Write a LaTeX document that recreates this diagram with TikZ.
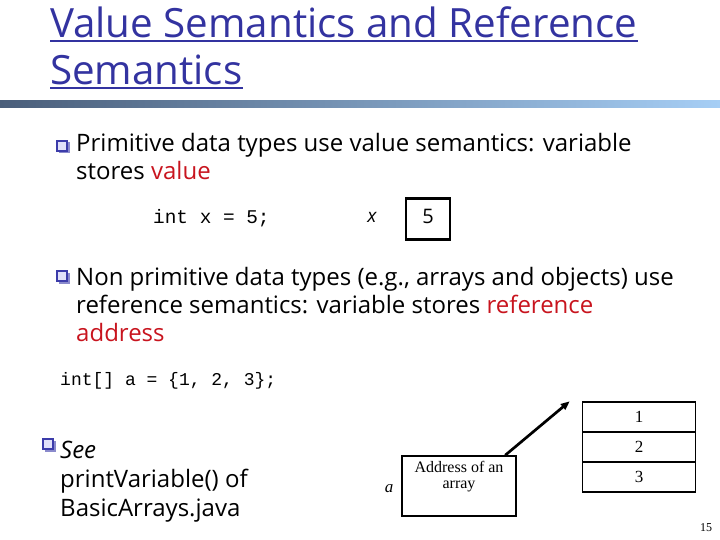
\documentclass[tikz,border=0pt]{standalone}
\usepackage{fontspec}
\setmainfont{Open Sans}
\newfontfamily\serifx{Liberation Serif}
\newfontfamily\monox{Liberation Mono}
\usetikzlibrary{arrows.meta,calc}
\definecolor{titleblue}{RGB}{51,51,160}
\definecolor{hlred}{RGB}{200,20,30}
\definecolor{barleft}{RGB}{74,94,122}
\definecolor{barright}{RGB}{166,206,245}
\definecolor{bulblue}{RGB}{60,60,170}
\definecolor{bulfill}{RGB}{225,225,250}
\tikzset{
  txt/.style={inner sep=0pt, anchor=base west, font=\fontsize{24}{28}\selectfont},
  ttl/.style={inner sep=0pt, anchor=base west, text=titleblue, font=\fontsize{40.3}{46}\selectfont},
  code/.style={inner sep=0pt, anchor=base west, font=\monox\fontsize{19.4}{22}\selectfont},
  bul/.style={draw=bulblue, fill=bulfill, line width=1.2pt, minimum size=10pt, inner sep=0pt},
  cell/.style={draw=black, line width=1.5pt, minimum width=113pt, minimum height=30pt, inner sep=0pt, font=\serifx\fontsize{17}{19}\selectfont},
  small/.style={inner sep=0pt, font=\serifx\fontsize{16}{18}\selectfont}
}
\begin{document}
\begin{tikzpicture}[x=1pt,y=-1pt]
\useasboundingbox (0,0) rectangle (720,540);
% title
\node[ttl] (t1) at (50,38) {Value Semantics and Reference};
\node[ttl] (t2) at (50,85) {Semantics};
\draw[titleblue, line width=2.2pt] ($(t1.base west)+(0,3)$) -- ($(t1.base east)+(0,3)$);
\draw[titleblue, line width=2.2pt] ($(t2.base west)+(0,3)$) -- ($(t2.base east)+(0,3)$);
% bar
\shade[left color=barleft, right color=barright] (0,101) rectangle (720,108);
% bullet 1
\fill[bulblue!60] (58.5,142.5) rectangle (69.5,153.5);
\node[bul] (q1) at (62,146) {};
\node[txt] (l1) at (76,152) {Primitive data types use value semantics: variable};
\node[txt] (l2) at (76,180) {stores \textcolor{hlred}{value}};
\node[code] (c1code) at (153,223) {int x = 5;};
\node[inner sep=0pt, font=\itshape\fontsize{19}{22}\selectfont] (xlab) at (372,217) {x};
\node[draw=black, line width=2.5pt, minimum width=44pt, minimum height=41pt, inner sep=0pt] (xbox) at (428,219) {};
\node[inner sep=0pt, font=\fontsize{20}{22}\selectfont] (xval) at ($(xbox.center)+(0,-3)$) {5};
% bullet 2
\fill[bulblue!60] (58.5,272.5) rectangle (69.5,283.5);
\node[bul] (q2) at (62,276) {};
\node[txt] (m1) at (76,285) {Non primitive data types (e.g., arrays and objects) use};
\node[txt] (m2) at (76,313) {reference semantics: variable stores \textcolor{hlred}{reference}};
\node[txt, text=hlred] (m3) at (76,341) {address};
\node[code, font=\monox\fontsize{18}{21}\selectfont] (c2code) at (60,385) {int[] a = \{1, 2, 3\};};
% bullet 3
\fill[bulblue!60] (44.5,440.5) rectangle (55.5,451.5);
\node[bul] (q3) at (48,444) {};
\node[txt] (n1) at (60,458) {\itshape See};
\node[txt] (n2) at (60,487) {printVariable() of};
\node[txt] (n3) at (60,516) {BasicArrays.java};
% array
\node[cell] (a1) at (639,417) {1};
\node[cell] (a2) at (639,447) {2};
\node[cell] (a3) at (639,477) {3};
% address box
\node[draw=black, line width=1.5pt, minimum width=114pt, minimum height=60pt, inner sep=0pt] (addr) at (459,486) {};
\node[small, align=center, anchor=north] (addrtxt) at ($(addr.north)+(0,6)$) {Address of an\\[-2pt]array};
\node[small, font=\serifx\itshape\fontsize{17}{19}\selectfont] (alab) at (389,489) {a};
\coordinate (astart) at ($(addr.north west)!0.9!(addr.north east)$);
\coordinate (aend) at ($(a1.north west)+(-12,0)$);
\draw[line width=2.7pt, -{Triangle[length=9pt,width=7pt]}] (astart) -- (aend);
% page number
\node[small, font=\serifx\fontsize{12}{14}\selectfont] (pg) at (706,528) {15};
\end{tikzpicture}
\end{document}
